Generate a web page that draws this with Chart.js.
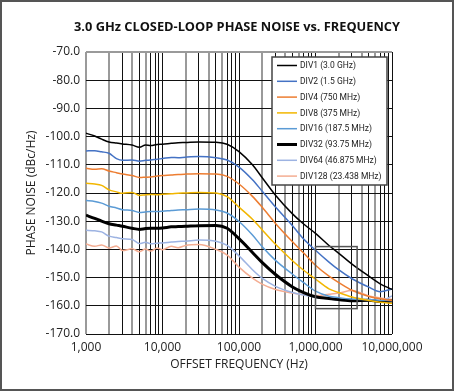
<!DOCTYPE html>
<html>
<head>
<meta charset="utf-8">
<script src="https://cdn.jsdelivr.net/npm/chart.js@4/dist/chart.umd.min.js"></script>
<style>
  html, body { margin: 0; padding: 0; background: #fff; }
  #wrap { width: 454px; height: 391px; position: relative; }
</style>
</head>
<body>
<div id="wrap"><canvas id="pnChart" width="454" height="391"></canvas></div>
<script>
// offset frequencies (Hz)
const freq = [1000, 1300, 1600, 2000, 2500, 3000, 4000, 5000, 6000, 7000, 8500,
  10000, 13000, 16000, 20000, 30000, 50000, 70000, 100000, 150000, 200000,
  300000, 500000, 700000, 1000000, 1500000, 2000000, 3000000, 5000000, 7000000, 10000000];

// phase noise, dBc/Hz
const div1 = [-98.8, -99.8, -100.9, -101.9, -102.3, -102.6, -103.0, -103.8, -103.0, -103.2, -102.8,
  -102.7, -102.4, -102.2, -102.1, -101.9, -102.0, -102.7, -105.3, -110.0, -114.5,
  -120.8, -127.4, -131.0, -134.3, -138.6, -141.3, -145.2, -149.5, -152.2, -154.2];
const div2 = [-105.1, -105.0, -105.4, -105.9, -107.8, -108.4, -108.3, -108.7, -108.4, -108.3, -108.0,
  -107.8, -107.4, -107.5, -107.3, -107.1, -107.5, -108.3, -110.8, -115.3, -119.3,
  -125.0, -131.6, -136.3, -140.3, -144.5, -147.2, -150.4, -153.4, -155.0, -154.0];
const div4 = [-111.2, -111.6, -111.4, -112.2, -112.8, -113.3, -113.8, -114.5, -114.4, -114.3, -114.0,
  -113.8, -113.6, -113.4, -113.3, -113.2, -113.3, -114.1, -116.8, -121.2, -125.0,
  -130.8, -137.3, -141.3, -145.6, -149.5, -151.7, -154.5, -156.7, -157.5, -158.1];
const div8 = [-116.5, -116.8, -117.3, -118.9, -119.6, -120.1, -119.8, -120.9, -120.6, -120.5, -120.6,
  -120.4, -120.3, -120.1, -120.0, -119.8, -120.0, -121.3, -125.0, -129.3, -133.0,
  -138.2, -144.0, -147.4, -150.5, -154.0, -155.3, -156.9, -158.1, -158.7, -159.1];
const div16 = [-122.7, -123.0, -123.6, -124.7, -125.3, -125.9, -126.2, -126.9, -126.7, -126.6, -126.6,
  -126.5, -126.2, -126.0, -125.9, -125.7, -126.0, -127.1, -130.1, -134.9, -139.0,
  -143.9, -148.8, -151.8, -154.8, -156.6, -157.1, -157.6, -157.8, -158.0, -158.2];
const div32 = [-127.9, -129.0, -130.0, -130.9, -131.4, -131.8, -132.5, -132.9, -132.6, -132.5, -132.5,
  -132.4, -132.0, -131.9, -131.8, -131.6, -131.5, -132.5, -136.2, -141.1, -144.6,
  -148.9, -153.3, -155.3, -156.8, -157.4, -157.8, -158.2, -158.0, -158.5, -158.3];
const div64 = [-133.2, -133.4, -133.8, -135.3, -135.8, -136.2, -136.5, -137.9, -137.5, -138.0, -137.8,
  -137.7, -137.4, -137.2, -137.1, -136.7, -137.1, -138.6, -142.3, -147.2, -150.2,
  -153.1, -155.3, -156.2, -157.0, -157.6, -157.9, -158.0, -158.2, -158.4, -156.5];
const div128 = [-138.1, -138.9, -138.4, -139.5, -138.8, -140.4, -139.8, -140.8, -139.9, -140.6, -139.5,
  -140.1, -138.9, -139.4, -138.6, -138.3, -140.0, -142.0, -146.3, -150.2, -152.3,
  -154.2, -155.5, -156.1, -156.4, -155.9, -155.5, -154.6, -156.5, -157.2, -157.8];

const seriesLabels = ['DIV1 (3.0 GHz)', 'DIV2 (1.5 GHz)', 'DIV4 (750 MHz)', 'DIV8 (375 MHz)',
  'DIV16 (187.5 MHz)', 'DIV32 (93.75 MHz)', 'DIV64 (46.875 MHz)', 'DIV128 (23.438 MHz)'];
const seriesValues = [div1, div2, div4, div8, div16, div32, div64, div128];
const seriesColors = ['#000000', '#4472c4', '#ed7d31', '#f2b600', '#5b9bd5', '#000000', '#9db3e2', '#f4ad92'];
const seriesWidths = [1.5, 1.5, 1.5, 1.5, 1.5, 3, 1.5, 1.5];

// axis ticks
const yTicks = [-70, -80, -90, -100, -110, -120, -130, -140, -150, -160, -170];
const decades = [1000, 10000, 100000, 1000000];
const xTickValues = decades.flatMap(d => [1, 2, 3, 4, 5, 6, 7, 8, 9].map(m => m * d)).concat([10000000]);

// inset box on the plot (Hz, dBc/Hz)
const boxFreq = [1000000, 3500000];
const boxLevel = [-139, -161];

const FONT = "'Open Sans', sans-serif";
const LEGEND_FONT = "'Liberation Sans Narrow', 'Roboto', sans-serif";

function isDecade(v) {
    return Math.abs(Math.log10(v) - Math.round(Math.log10(v))) < 1e-9;
}

// title centred over the plot
const titlePlugin = {
    id: 'plotTitle',
    afterDraw(chart) {
        const { ctx, chartArea } = chart;
        ctx.save();
        ctx.font = "bold 12.8px " + FONT;
        ctx.fillStyle = '#111';
        ctx.textAlign = 'center';
        ctx.textBaseline = 'middle';
        ctx.fillText('3.0 GHz CLOSED-LOOP PHASE NOISE vs. FREQUENCY', (chartArea.left + chartArea.right) / 2 - 2, 27);
        ctx.restore();
    }
};

// inset rectangle + boxed legend + outer frame
const extrasPlugin = {
    id: 'extras',
    afterDatasetsDraw(chart) {
        const { ctx, scales } = chart;
        const x0 = scales.x.getPixelForValue(boxFreq[0]);
        const x1 = scales.x.getPixelForValue(boxFreq[1]);
        const y0 = scales.y.getPixelForValue(boxLevel[0]);
        const y1 = scales.y.getPixelForValue(boxLevel[1]);
        ctx.save();
        ctx.strokeStyle = '#555';
        ctx.lineWidth = 1.5;
        ctx.strokeRect(x0, y0, x1 - x0, y1 - y0);

        // legend
        const area = chart.chartArea;
        const w = 115, h = 128;
        const lx = area.right - 5 - w, ly = area.top + 5;
        ctx.fillStyle = '#fff';
        ctx.fillRect(lx, ly, w, h);
        ctx.strokeStyle = '#444';
        ctx.lineWidth = 1.5;
        ctx.strokeRect(lx, ly, w, h);

        // fit the text inside the box
        let size = 10.5;
        const room = w - 33;
        const widest = () => Math.max(...chart.data.datasets.map(d => ctx.measureText(d.label).width));
        ctx.font = size + "px " + LEGEND_FONT;
        while (widest() > room && size > 6) {
            size -= 0.25;
            ctx.font = size + "px " + LEGEND_FONT;
        }
        ctx.textAlign = 'left';
        ctx.textBaseline = 'middle';
        chart.data.datasets.forEach((ds, i) => {
            const ry = ly + 8.5 + i * 15.8;
            ctx.strokeStyle = ds.borderColor;
            ctx.lineWidth = ds.borderWidth;
            ctx.beginPath();
            ctx.moveTo(lx + 5, ry);
            ctx.lineTo(lx + 25, ry);
            ctx.stroke();
            ctx.fillStyle = '#222';
            ctx.fillText(ds.label, lx + 28, ry + 0.5);
        });
        ctx.restore();
    },
    afterDraw(chart) {
        const ctx = chart.ctx;
        ctx.save();
        ctx.strokeStyle = '#555';
        ctx.lineWidth = 2;
        ctx.strokeRect(1, 1, chart.width - 2, chart.height - 2);
        ctx.restore();
    }
};

function createChart() {
    const ctx = document.getElementById('pnChart');

    const datasets = seriesValues.map((vals, i) => ({
        label: seriesLabels[i],
        data: vals.map((v, j) => ({ x: freq[j], y: v })),
        borderColor: seriesColors[i],
        borderWidth: seriesWidths[i],
        pointRadius: 0,
        fill: false,
        cubicInterpolationMode: 'monotone'
    }));

    new Chart(ctx, {
        type: 'line',
        data: { datasets: datasets },
        options: {
            responsive: false,
            animation: false,
            layout: { padding: { top: 52, right: 62, left: 0, bottom: 0 } },
            plugins: {
                legend: { display: false },
                title: { display: false },
                tooltip: { enabled: false }
            },
            scales: {
                x: {
                    type: 'logarithmic',
                    min: 1000,
                    max: 10000000,
                    afterBuildTicks: scale => {
                        scale.ticks = xTickValues.map(v => ({ value: v }));
                    },
                    afterFit: scale => { scale.height = 57; },
                    border: { display: false },
                    grid: {
                        drawTicks: false,
                        color: c => {
                            const v = c.tick.value;
                            const m = Math.round(v / Math.pow(10, Math.floor(Math.log10(v) + 1e-9)));
                            return (v === 1000 || m === 2 || m === 4 || m === 6) ? '#9a9a9a' : '#111';
                        },
                        lineWidth: c => {
                            const v = c.tick.value;
                            const m = Math.round(v / Math.pow(10, Math.floor(Math.log10(v) + 1e-9)));
                            return (v === 1000 || m === 2 || m === 4 || m === 6) ? 2 : 1;
                        }
                    },
                    ticks: {
                        autoSkip: false,
                        maxRotation: 0,
                        padding: 6,
                        color: '#222',
                        font: { family: FONT, size: 12 },
                        callback: v => isDecade(v) ? Number(v).toLocaleString('en-US') : ''
                    },
                    title: {
                        display: true,
                        text: 'OFFSET FREQUENCY (Hz)',
                        color: '#222',
                        font: { family: FONT, size: 12 },
                        padding: { top: 0, bottom: 19 }
                    }
                },
                y: {
                    min: -170,
                    max: -70,
                    afterBuildTicks: scale => {
                        scale.ticks = yTicks.map(v => ({ value: v }));
                    },
                    afterFit: scale => { scale.width = 86; },
                    border: { display: false },
                    grid: {
                        drawTicks: false,
                        color: c => c.tick.value === -70 ? '#9a9a9a' : '#111',
                        lineWidth: c => c.tick.value === -70 ? 2 : 1
                    },
                    ticks: {
                        padding: 6,
                        color: '#222',
                        font: { family: FONT, size: 12 },
                        callback: v => Number(v).toFixed(1)
                    },
                    title: {
                        display: true,
                        text: 'PHASE NOISE (dBc/Hz)',
                        color: '#222',
                        font: { family: FONT, size: 12 },
                        padding: { top: 24, bottom: 0 }
                    }
                }
            }
        },
        plugins: [titlePlugin, extrasPlugin]
    });
}

document.addEventListener('DOMContentLoaded', createChart);
</script>
</body>
</html>
